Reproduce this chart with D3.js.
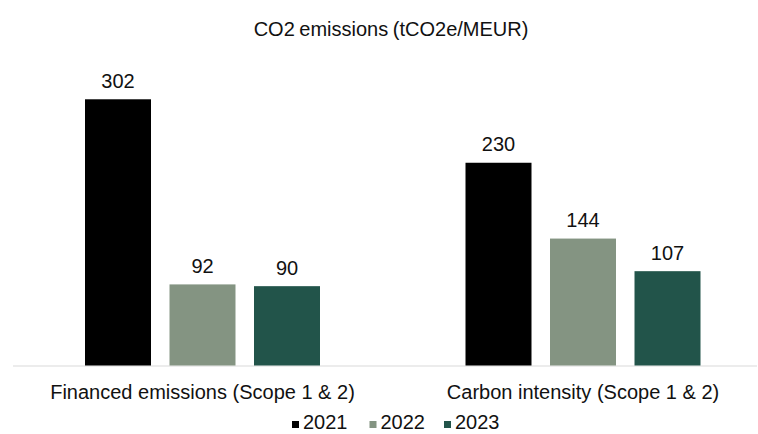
<!DOCTYPE html>
<html>
<head>
<meta charset="utf-8">
<script src="https://cdn.jsdelivr.net/npm/d3@7"></script>
<style>
  html, body { margin: 0; padding: 0; background: #fff; }
  svg { display: block; font-family: "Liberation Sans", Arial, sans-serif; }
</style>
</head>
<body>
<svg id="chart" width="758" height="434"></svg>
<script>
// Chart data
const title = "CO2 emissions (tCO2e/MEUR)";
const categories = ["Financed emissions (Scope 1 & 2)", "Carbon intensity (Scope 1 & 2)"];
const years = ["2021", "2022", "2023"];
const values2021 = [302, 230];
const values2022 = [92, 144];
const values2023 = [90, 107];
const seriesColors = ["#000000", "#849482", "#22544A"];

const series = [values2021, values2022, values2023];

const svg = d3.select("#chart");

const baseline = 365.5;
const yMax = 350;
const plotTop = baseline - yMax * 0.8815;

const y = d3.scaleLinear().domain([0, yMax]).range([baseline, plotTop]);

const x0 = d3.scaleBand().domain(categories).range([12.25, 773.25]).paddingInner(0).paddingOuter(0);
const groupInner = 235;
const x1 = d3.scaleBand().domain(years)
  .range([(x0.bandwidth() - groupInner) / 2, (x0.bandwidth() + groupInner) / 2])
  .paddingInner(0.219).paddingOuter(0);

const color = d3.scaleOrdinal().domain(years).range(seriesColors);

// Title
svg.append("text")
  .attr("x", 391).attr("y", 35.5)
  .attr("text-anchor", "middle")
  .attr("font-size", 20).attr("fill", "#111")
  .attr("word-spacing", -1)
  .text(title);

// Category axis line
svg.append("line")
  .attr("x1", 13).attr("x2", 757)
  .attr("y1", baseline + 0.5).attr("y2", baseline + 0.5)
  .attr("stroke", "#d9d9d9").attr("stroke-width", 1);

// Bars and value labels
const rows = [];
categories.forEach((c, ci) => {
  years.forEach((yr, si) => rows.push({ cat: c, year: yr, value: series[si][ci] }));
});

const groups = svg.append("g").selectAll("g")
  .data(categories).join("g")
  .attr("transform", d => `translate(${x0(d)},0)`);

groups.selectAll("rect")
  .data(c => rows.filter(r => r.cat === c))
  .join("rect")
  .attr("x", d => x1(d.year))
  .attr("width", x1.bandwidth())
  .attr("y", d => y(d.value))
  .attr("height", d => baseline - y(d.value))
  .attr("fill", d => color(d.year));

groups.selectAll("text.value")
  .data(c => rows.filter(r => r.cat === c))
  .join("text")
  .attr("class", "value")
  .attr("x", d => x1(d.year) + x1.bandwidth() / 2)
  .attr("y", d => y(d.value) - 11.5)
  .attr("text-anchor", "middle")
  .attr("font-size", 20).attr("fill", "#111")
  .text(d => d.value);

// Category labels
svg.append("g").selectAll("text")
  .data(categories).join("text")
  .attr("x", d => x0(d) + x0.bandwidth() / 2)
  .attr("y", 399.3)
  .attr("text-anchor", "middle")
  .attr("font-size", 20).attr("fill", "#111")
  .text(d => d);

// Legend along the bottom edge
const legendSquareX = [292, 369.5, 444];
const legend = svg.append("g").selectAll("g")
  .data(years).join("g")
  .attr("transform", (d, i) => `translate(${legendSquareX[i]},0)`);
legend.append("rect")
  .attr("x", 0).attr("y", 421)
  .attr("width", 7).attr("height", 7)
  .attr("fill", d => color(d));
legend.append("text")
  .attr("x", 11).attr("y", 429)
  .attr("font-size", 20).attr("fill", "#111")
  .text(d => d);
</script>
</body>
</html>
